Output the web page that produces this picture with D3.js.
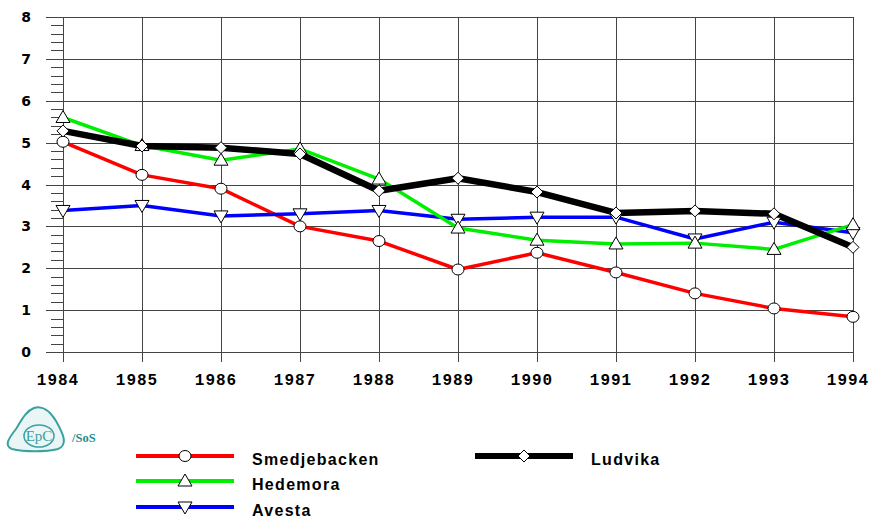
<!DOCTYPE html>
<html lang="en">
<head>
<meta charset="UTF-8">
<title>Dalarna</title>
<style>
  body { margin: 0; background: #fff; }
  .grid line { stroke: #444; stroke-width: 1; shape-rendering: crispEdges; }
  .ylab { font: bold 14px "DejaVu Sans", sans-serif; }
  .xlab { font: bold 16px "Liberation Mono", monospace; letter-spacing: 1px; }
  .leg { font: bold 16px "Liberation Sans", Arial, sans-serif; letter-spacing: 1.3px; }
</style>
</head>
<body>
<svg width="874" height="518"></svg>
<script src="https://d3js.org/d3.v7.min.js"></script>
<script>
var years = [1984, 1985, 1986, 1987, 1988, 1989, 1990, 1991, 1992, 1993, 1994];
var yTicks = [0, 1, 2, 3, 4, 5, 6, 7, 8];

var smedjebacken = [5.02, 4.23, 3.9, 3.0, 2.65, 1.97, 2.37, 1.9, 1.4, 1.04, 0.84];
var hedemora     = [5.6, 4.93, 4.58, 4.85, 4.13, 2.96, 2.67, 2.58, 2.6, 2.45, 3.04];
var avesta       = [3.38, 3.5, 3.25, 3.3, 3.38, 3.17, 3.22, 3.22, 2.7, 3.1, 2.85];
var ludvika      = [5.28, 4.92, 4.88, 4.73, 3.85, 4.15, 3.82, 3.32, 3.37, 3.3, 2.5];

var series = [
  {name: "Smedjebacken", values: smedjebacken, color: "#ff0000", width: 3.5, sym: "circle"},
  {name: "Hedemora", values: hedemora, color: "#00ee00", width: 3.5, sym: "up"},
  {name: "Avesta", values: avesta, color: "#0000ff", width: 3.5, sym: "down"},
  {name: "Ludvika", values: ludvika, color: "#000000", width: 6.5, sym: "diamond"}
];
// draw order matches the picture: black on top of the others
var drawOrder = [0, 2, 1, 3];

var svg = d3.select("svg");

var x = d3.scaleLinear().domain([1984, 1994]).range([63, 853]);
var y = d3.scaleLinear().domain([0, 8]).range([352, 17]);

// grid
var grid = svg.append("g").attr("class", "grid");
grid.selectAll(".h").data(yTicks).enter().append("line")
    .attr("x1", 46).attr("x2", x(1994))
    .attr("y1", function(d) { return Math.round(y(d)) + 0.5; })
    .attr("y2", function(d) { return Math.round(y(d)) + 0.5; });
grid.selectAll(".v").data(years).enter().append("line")
    .attr("x1", function(d) { return Math.round(x(d)) + 0.5; })
    .attr("x2", function(d) { return Math.round(x(d)) + 0.5; })
    .attr("y1", y(8)).attr("y2", y(0) + 10);

// minor ticks on y axis
var minor = d3.range(0, 8.01, 0.2).filter(function(v) { return Math.abs(v - Math.round(v)) > 0.01; });
grid.selectAll(".m").data(minor).enter().append("line")
    .attr("x1", 51).attr("x2", x(1984))
    .attr("y1", function(d) { return Math.round(y(d)) + 0.5; })
    .attr("y2", function(d) { return Math.round(y(d)) + 0.5; });

svg.selectAll(".ylab").data(yTicks).enter().append("text")
    .attr("class", "ylab")
    .attr("x", 31).attr("y", function(d) { return y(d); })
    .attr("dy", "0.36em").attr("text-anchor", "end")
    .text(function(d) { return d; });

svg.selectAll(".xlab").data(years).enter().append("text")
    .attr("class", "xlab")
    .attr("x", function(d) { return x(d) - 5; }).attr("y", 385)
    .attr("text-anchor", "middle")
    .text(function(d) { return d; });

function symbolPath(sym) {
  if (sym === "circle") return "M-6,0A6,5.5 0 1,0 6,0A6,5.5 0 1,0 -6,0Z";
  if (sym === "up") return "M0,-7L7,5L-7,5Z";
  if (sym === "down") return "M0,7L7,-5L-7,-5Z";
  return "M0,-6L6,0L0,6L-6,0Z";
}

var line = d3.line()
    .x(function(d, i) { return x(years[i]); })
    .y(function(d) { return y(d); });

drawOrder.forEach(function(k) {
  var s = series[k];
  svg.append("path")
      .attr("d", line(s.values))
      .attr("fill", "none")
      .attr("stroke", s.color)
      .attr("stroke-width", s.width)
      .attr("stroke-linejoin", "round");
});
drawOrder.forEach(function(k) {
  var s = series[k];
  svg.selectAll(null).data(s.values).enter().append("path")
      .attr("transform", function(d, i) { return "translate(" + x(years[i]) + "," + y(d) + ")"; })
      .attr("d", symbolPath(s.sym))
      .attr("fill", "#fff")
      .attr("stroke", "#000")
      .attr("stroke-width", 1);
});

// legend
var legPos = [
  {x: 136, y: 456}, {x: 136, y: 481}, {x: 136, y: 507}, {x: 475, y: 456}
];
series.forEach(function(s, i) {
  var p = legPos[i];
  var g = svg.append("g").attr("transform", "translate(" + p.x + "," + p.y + ")");
  g.append("line").attr("x1", 0).attr("x2", 98).attr("y1", 0).attr("y2", 0)
      .attr("stroke", s.color).attr("stroke-width", s.width === 6.5 ? 6 : 4);
  g.append("path").attr("transform", "translate(49,0)").attr("d", symbolPath(s.sym))
      .attr("fill", "#fff").attr("stroke", "#000").attr("stroke-width", 1);
  g.append("text").attr("class", "leg").attr("x", 116).attr("y", 9)
      .text(s.name);
});

// logo
var logo = svg.append("g").attr("transform", "translate(6,405)");
logo.append("path")
    .attr("d", "M28,3 C36,0 44,6 50,16 C58,30 62,40 52,44 C40,47 18,47 6,44 C-2,41 2,34 10,24 C16,14 20,6 28,3Z")
    .attr("fill", "#eaf6f6").attr("stroke", "#3aa0a0").attr("stroke-width", 2);
logo.append("ellipse").attr("cx", 33).attr("cy", 31).attr("rx", 15).attr("ry", 11)
    .attr("fill", "none").attr("stroke", "#3aa0a0").attr("stroke-width", 1.5);
logo.append("text").attr("x", 33).attr("y", 36).attr("text-anchor", "middle")
    .attr("font-family", "Liberation Serif, serif").attr("font-size", 15).attr("fill", "#3aa0a0")
    .text("EpC");
svg.append("text").attr("x", 72).attr("y", 442)
    .attr("font-family", "Liberation Serif, serif").attr("font-weight", "bold").attr("font-size", 12.5)
    .attr("fill", "#1f8a8a").text("/SoS");
</script>
</body>
</html>
